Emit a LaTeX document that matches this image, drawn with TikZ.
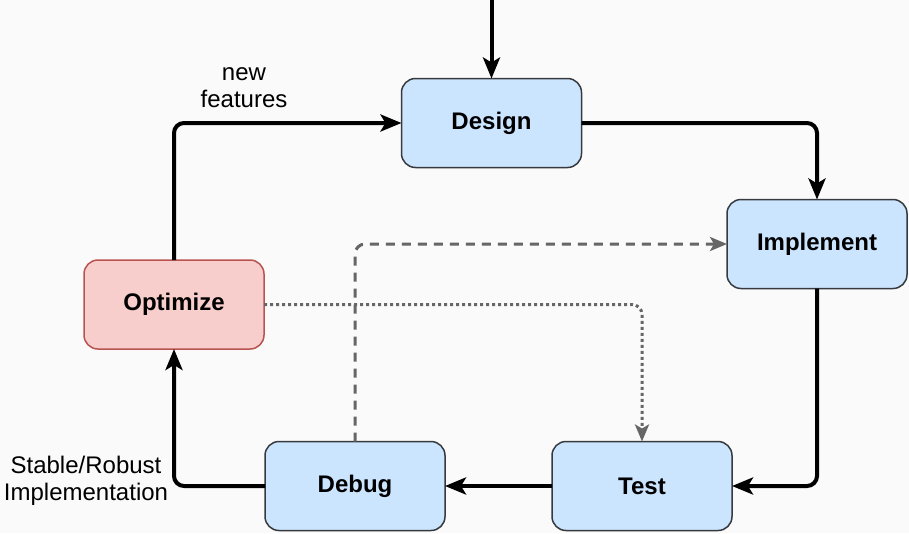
\documentclass[tikz,border=0pt]{standalone}
\usepackage{fontspec}
\setmainfont{Liberation Sans}
\usetikzlibrary{arrows.meta}
\definecolor{bluefill}{HTML}{CCE5FF}
\definecolor{bluedraw}{HTML}{36393D}
\definecolor{redfill}{HTML}{F8CECC}
\definecolor{reddraw}{HTML}{B85450}
\definecolor{grayline}{HTML}{666666}
\definecolor{bg}{HTML}{FAFAFA}
\begin{document}
\begin{tikzpicture}[x=1pt,y=-1pt,
  box/.style={rectangle, rounded corners=14pt, draw=bluedraw, fill=bluefill, line width=1.5pt,
    minimum width=180pt, minimum height=89pt, inner sep=0pt, outer sep=0pt,
    font=\fontsize{24}{28}\selectfont\bfseries},
  redbox/.style={box, draw=reddraw, fill=redfill},
  flow/.style={line width=4pt, rounded corners=10pt, -{Stealth[length=21pt,width=17pt,inset=5pt]}},
  dashflow/.style={draw=grayline, line width=3pt, rounded corners=10pt, dash pattern=on 9pt off 7pt,
    -{Stealth[length=17pt,width=14pt,inset=4pt]}},
  dotflow/.style={draw=grayline, line width=3pt, rounded corners=10pt, dash pattern=on 3pt off 3pt,
    -{Stealth[length=17pt,width=14pt,inset=4pt]}},
  lbl/.style={align=center, font=\fontsize{24}{27}\selectfont, inner sep=0pt}
]
\fill[bg] (0,0) rectangle (909,533);
\useasboundingbox (0,0) rectangle (909,533);

\node[box] (design) at (491.5,123) {Design};
\node[box] (impl) at (817,244) {Implement};
\node[box] (test) at (642,486) {Test};
\node[box] (debug) at (355,486) {Debug};
\node[redbox] (opt) at (174,304.5) {Optimize};

\coordinate (start) at (491.5,0);

\draw[flow] (start) -- (design.north);
\draw[flow] (design.east) -| (impl.north);
\draw[flow] (impl.south) |- (test.east);
\draw[flow] (test.west) -- (debug.east);
\draw[flow] (debug.west) -| (opt.south);
\draw[flow] (opt.north) |- (design.west);

\draw[dashflow] (debug.north) |- (impl.west);
\draw[dotflow] (opt.east) -| (test.north);

\node[lbl] (nf) at (244,87.5) {new\\features};
\node[lbl] (sr) at (86,480.5) {Stable/Robust\\Implementation};
\end{tikzpicture}
\end{document}
